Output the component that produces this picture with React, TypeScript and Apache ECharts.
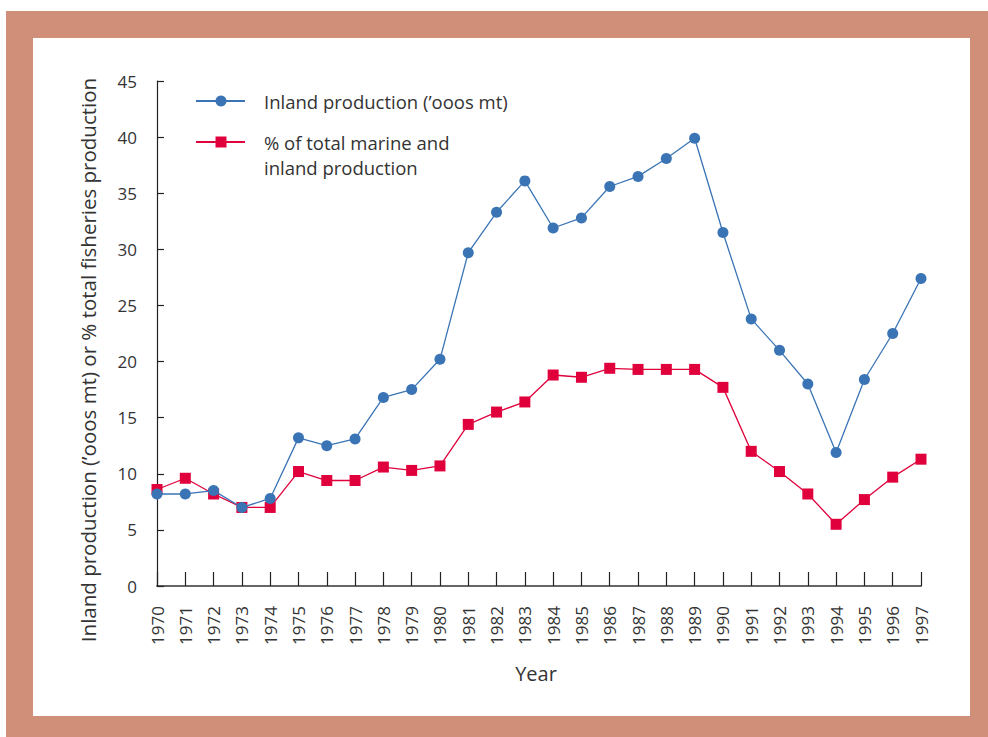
import React, { useEffect, useRef } from "react";
import * as echarts from "echarts";

const years = [
  "1970", "1971", "1972", "1973", "1974", "1975", "1976", "1977", "1978", "1979",
  "1980", "1981", "1982", "1983", "1984", "1985", "1986", "1987", "1988", "1989",
  "1990", "1991", "1992", "1993", "1994", "1995", "1996", "1997",
];
const inlandProduction = [
  8.2, 8.2, 8.5, 7.0, 7.8, 13.2, 12.5, 13.1, 16.8, 17.5,
  20.2, 29.7, 33.3, 36.1, 31.9, 32.8, 35.6, 36.5, 38.1, 39.9,
  31.5, 23.8, 21.0, 18.0, 11.9, 18.4, 22.5, 27.4,
];
const percentOfTotal = [
  8.6, 9.6, 8.2, 7.0, 7.0, 10.2, 9.4, 9.4, 10.6, 10.3,
  10.7, 14.4, 15.5, 16.4, 18.8, 18.6, 19.4, 19.3, 19.3, 19.3,
  17.7, 12.0, 10.2, 8.2, 5.5, 7.7, 9.7, 11.3,
];
const seriesNames = ["Inland production (\u2019ooos mt)", "% of total marine and\ninland production"];
const yAxisTitle = "Inland production (\u2019ooos mt) or % total fisheries production";
const xAxisTitle = "Year";

const BLUE = "#3a74b5";
const RED = "#e0003c";
const FONT = "'Open Sans', Lato, sans-serif";
const TEXT = "#333333";

export default function App() {
  const ref = useRef<HTMLDivElement>(null);
  useEffect(() => {
    if (!ref.current) return;
    const chart = echarts.init(ref.current, undefined, { renderer: "svg" });
    chart.setOption({
      animation: false,
      textStyle: { fontFamily: FONT },
      grid: { left: 157, right: 67, top: 81, bottom: 151, containLabel: false },
      xAxis: {
        type: "category",
        data: years,
        boundaryGap: false,
        name: xAxisTitle,
        nameLocation: "middle",
        nameGap: 77,
        nameTextStyle: { fontSize: 20, color: TEXT, fontFamily: FONT, padding: [0, 6, 0, 0] },
        axisLine: { lineStyle: { color: "#666666", width: 2 } },
        axisTick: { inside: true, length: 14, lineStyle: { color: "#222222", width: 1.2 } },
        axisLabel: {
          rotate: 90,
          interval: 0,
          margin: 20,
          fontSize: 17,
          color: TEXT,
          fontFamily: FONT,
        },
        splitLine: { show: false },
      },
      yAxis: {
        type: "value",
        min: 0,
        max: 45,
        interval: 5,
        axisLine: { show: true, lineStyle: { color: "#222222", width: 1.2 } },
        axisTick: { show: true, inside: true, length: 7, lineStyle: { color: "#222222", width: 1.2 } },
        axisLabel: { fontSize: 17, color: TEXT, margin: 20, fontFamily: FONT },
        splitLine: { show: false },
      },
      series: [
        {
          name: seriesNames[1],
          type: "line",
          data: percentOfTotal,
          symbol: "rect",
          symbolSize: 11,
          itemStyle: { color: RED },
          lineStyle: { color: RED, width: 1.3 },
          z: 2,
        },
        {
          name: seriesNames[0],
          type: "line",
          data: inlandProduction,
          symbol: "circle",
          symbolSize: 11,
          itemStyle: { color: BLUE },
          lineStyle: { color: BLUE, width: 1.3 },
          z: 3,
        },
      ],
      graphic: [
        {
          type: "text",
          x: 88,
          y: 360,
          rotation: Math.PI / 2,
          style: {
            text: yAxisTitle,
            fontSize: 20.5,
            fill: TEXT,
            fontFamily: FONT,
            align: "center",
            verticalAlign: "middle",
          },
        },
        {
          type: "line",
          shape: { x1: 196, y1: 101, x2: 245, y2: 101 },
          style: { stroke: BLUE, lineWidth: 2 },
        },
        {
          type: "circle",
          shape: { cx: 221, cy: 101, r: 5.5 },
          style: { fill: BLUE },
        },
        {
          type: "text",
          x: 264,
          y: 101,
          style: {
            text: seriesNames[0],
            fontSize: 18.5,
            fill: TEXT,
            fontFamily: FONT,
            verticalAlign: "middle",
          },
        },
        {
          type: "line",
          shape: { x1: 196, y1: 142, x2: 245, y2: 142 },
          style: { stroke: RED, lineWidth: 2 },
        },
        {
          type: "rect",
          shape: { x: 215.5, y: 136.5, width: 11, height: 11 },
          style: { fill: RED },
        },
        {
          type: "text",
          x: 264,
          y: 129.5,
          style: {
            text: seriesNames[1],
            fontSize: 18.5,
            lineHeight: 25,
            fill: TEXT,
            fontFamily: FONT,
            verticalAlign: "top",
          },
        },
      ],
    });
    return () => chart.dispose();
  }, []);

  return (
    <div
      style={{
        position: "fixed",
        left: 0,
        top: 0,
        width: 988,
        height: 737,
        background: "#ffffff",
      }}
    >
      <div
        style={{
          position: "absolute",
          left: 6,
          top: 11,
          width: 982,
          height: 726,
          background: "#cf8f78",
        }}
      />
      <div
        style={{
          position: "absolute",
          left: 33,
          top: 38,
          width: 937,
          height: 678,
          background: "#ffffff",
        }}
      />
      <div ref={ref} style={{ position: "absolute", left: 0, top: 0, width: 988, height: 737 }} />
    </div>
  );
}
